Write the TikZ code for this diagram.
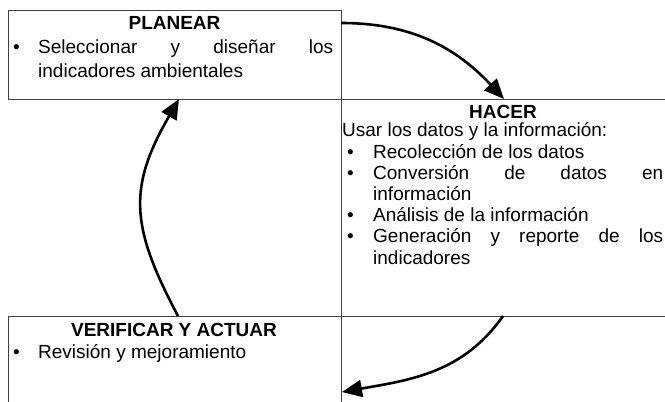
\documentclass[tikz,border=0pt]{standalone}
\usepackage{fontspec}
\setmainfont{Liberation Sans}
\usetikzlibrary{arrows.meta}

\newcommand{\vineta}[2][30pt]{\noindent\hangindent=#1\hangafter=1\makebox[#1][l]{\hspace{5pt}\textbullet}#2\par}

\tikzset{
	rejilla/.style = {draw = black!75, line width = .8pt},
	flecha/.style = {-{Triangle[length=20pt, width=17pt]}, line width = 2.6pt},
	titulo/.style = {anchor = base, inner sep = 0, font = \fontsize{19}{22}\selectfont\bfseries},
	lista/.style = {anchor = base west, inner sep = 0, align = justify, font = \fontsize{19}{24}\selectfont}
}

\begin{document}
\begin{tikzpicture}[x = 1pt, y = 1pt]
		\useasboundingbox (0,0) rectangle (665,402);
		
		\draw [rejilla] (8,303) -- (8,392) -- (341,392);
		\draw [rejilla] (8,303) -- (665,303);
		\draw [rejilla] (341,392) -- (341,0);
		\draw [rejilla] (8,0) -- (8,86) -- (665,86);
		
		\node (planear) [titulo] at (174.5,372) {PLANEAR};
		\node (planearTxt) [lista, text width = 325pt] at (8,348)
			{\vineta{Seleccionar y diseñar los\linebreak indicadores ambientales}};
		
		\node (hacer) [titulo] at (503,283) {HACER};
		\node (hacerTxt) [lista, text width = 321pt, font = \fontsize{19}{21.2}\selectfont] at (342,265)
			{Usar los datos y la información:\par
			\vineta[31pt]{Recolección de los datos}
			\vineta[31pt]{Conversión de datos en\linebreak información}
			\vineta[31pt]{Análisis de la información}
			\vineta[31pt]{Generación y reporte de los\linebreak indicadores}};
		
		\node (verificar) [titulo] at (174,65) {VERIFICAR Y ACTUAR};
		\node (verificarTxt) [lista, text width = 325pt] at (8,43)
			{\vineta{Revisión y mejoramiento}};
		
		\coordinate (planearSal) at (341,379);
		\coordinate (hacerEnt) at (504,303);
		\coordinate (hacerSal) at (503,86);
		\coordinate (verificarEnt) at (342,10);
		\coordinate (verificarSal) at (178,86);
		\coordinate (planearEnt) at (179,303);
		
		\draw [flecha] (planearSal) to [out = 0, in = 133] (hacerEnt);
		\draw [flecha] (hacerSal) to [out = 235, in = 10] (verificarEnt);
		\draw [flecha] (verificarSal) to [out = 118, in = 240, looseness = 1.2] (planearEnt);
		
\end{tikzpicture}
\end{document}
